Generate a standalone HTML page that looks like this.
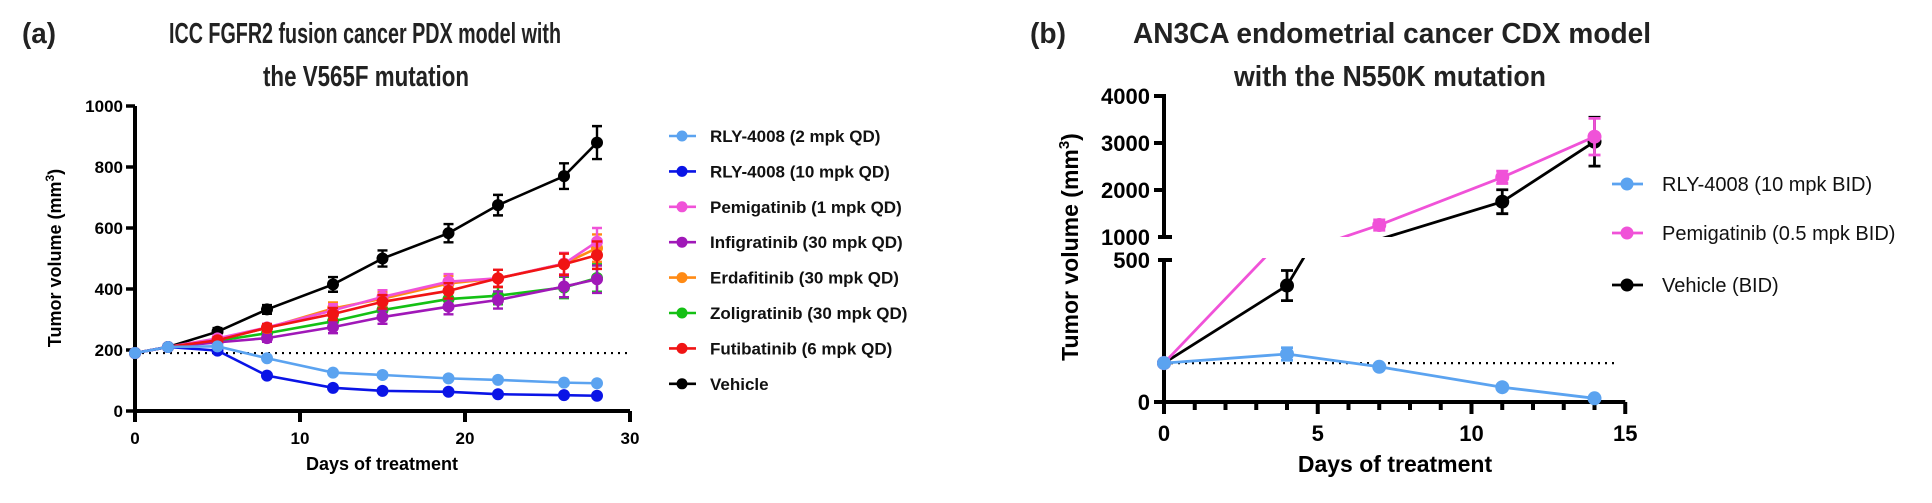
<!DOCTYPE html>
<html><head><meta charset="utf-8"><style>
html,body{margin:0;padding:0;background:#fff;}
svg{display:block;font-family:"Liberation Sans",Arial,sans-serif;}
.b{font-weight:bold;}
</style></head><body>
<svg id="chart" width="1932" height="503" viewBox="0 0 1932 503" xmlns="http://www.w3.org/2000/svg">
<defs>
<clipPath id="clipBot"><rect x="1140" y="258" width="520" height="160"/></clipPath>
<clipPath id="clipTop"><rect x="1140" y="60" width="520" height="177"/></clipPath>
</defs>
<text x="22" y="43" font-size="29" class="b" fill="#222" textLength="34" lengthAdjust="spacingAndGlyphs">(a)</text>
<text x="365" y="43" font-size="29" text-anchor="middle" class="b" fill="#222" textLength="392" lengthAdjust="spacingAndGlyphs">ICC FGFR2 fusion cancer PDX model with</text>
<text x="366" y="86" font-size="29" text-anchor="middle" class="b" fill="#222" textLength="206" lengthAdjust="spacingAndGlyphs">the V565F mutation</text>
<text x="1030" y="43" font-size="29" class="b" fill="#222" textLength="36" lengthAdjust="spacingAndGlyphs">(b)</text>
<text x="1392" y="43" font-size="29" text-anchor="middle" class="b" fill="#222" textLength="518" lengthAdjust="spacingAndGlyphs">AN3CA endometrial cancer CDX model</text>
<text x="1390" y="86" font-size="29" text-anchor="middle" class="b" fill="#222" textLength="312" lengthAdjust="spacingAndGlyphs">with the N550K mutation</text>
<g id="pa"></g>
<g id="pb"></g>
</svg>
<script>
// ---------- Panel A data ----------
const daysA = [0, 2, 5, 8, 12, 15, 19, 22, 26, 28];
const namesA = ["RLY-4008 (2 mpk QD)","RLY-4008 (10 mpk QD)","Pemigatinib (1 mpk QD)","Infigratinib (30 mpk QD)","Erdafitinib (30 mpk QD)","Zoligratinib (30 mpk QD)","Futibatinib (6 mpk QD)","Vehicle"];
const colorsA = ["#5ba3f0","#0a14e6","#f052d8","#a018b8","#ff8a14","#14c014","#f01414","#000000"];
const rly2A   = [190, 210, 212, 173, 126, 118, 107, 102, 93, 91];
const rly10A  = [190, 210, 198, 116, 76, 66, 63, 55, 52, 50];
const pemiA   = [190, 210, 238, 274, 330, 374, 424, 435, 483, 555];
const infigA  = [190, 210, 225, 239, 275, 308, 342, 364, 408, 432];
const erdaA   = [190, 210, 235, 272, 336, 368, 418, 435, 483, 534];
const zoliA   = [190, 210, 230, 255, 294, 331, 367, 378, 405, 436];
const futiA   = [190, 210, 232, 273, 318, 358, 394, 435, 481, 511];
const vehA    = [190, 210, 260, 333, 415, 500, 583, 675, 770, 880];
const errA    = [0, 6, 10, 12, 20, 22, 25, 28, 35, 45];
const yTicksA = [0, 200, 400, 600, 800, 1000];
const xTicksA = [0, 10, 20, 30];
const baselineA = 190;

// ---------- Panel B data ----------
const daysB = [0, 4, 7, 11, 14];
const namesB = ["RLY-4008 (10 mpk BID)","Pemigatinib (0.5 mpk BID)","Vehicle (BID)"];
const colorsB = ["#5ba3f0","#f052d8","#000000"];
const rlyB  = [137, 169, 124, 52, 13];
const pemiB = [137, 590, 1255, 2270, 3134];
const vehB  = [137, 410, 950, 1751, 3028];
const rlyErrB  = [0, 22, 6, 6, 5];
const pemiErrB = [0, 40, 110, 130, 390];
const vehErrB  = [0, 53, 90, 255, 520];
const yTicksBTop = [1000, 2000, 3000, 4000];
const yTicksBBot = [0, 500];
const xTicksB = [0, 5, 10, 15];
const baselineB = 137;

const NS = "http://www.w3.org/2000/svg";
function mk(parent, tag, attrs){ const e=document.createElementNS(NS,tag); for(const k in attrs) e.setAttribute(k,attrs[k]); parent.appendChild(e); return e; }

// ---------- Panel A ----------
const pa = document.getElementById('pa');


const xA = d => 135 + d*16.5;
const yA = v => 411 - v*0.305;
let bl = mk(pa,'line',{x1:xA(0),x2:630,y1:yA(baselineA),y2:yA(baselineA),stroke:'#000','stroke-width':2.2,'stroke-dasharray':'2 5'});


let ax = mk(pa,'path',{d:`M${xA(0)} ${yA(1000)} V${yA(0)} H${xA(30)}`,fill:'none',stroke:'#000','stroke-width':4});


yTicksA.forEach(t=>{
  mk(pa,'line',{x1:xA(0)-9,x2:xA(0),y1:yA(t),y2:yA(t),stroke:'#000','stroke-width':3.5});
  const tx=mk(pa,'text',{x:xA(0)-12,y:yA(t)+6,'font-size':17,'text-anchor':'end',class:'b'});
  tx.textContent=t;
  
  
});
xTicksA.forEach(t=>{
  mk(pa,'line',{x1:xA(t),x2:xA(t),y1:yA(0),y2:yA(0)+11,stroke:'#000','stroke-width':4});
  const tx=mk(pa,'text',{x:xA(t),y:444,'font-size':17,'text-anchor':'middle',class:'b'});
  tx.textContent=t;
  
  
});
let xtA=mk(pa,'text',{x:382,y:470,'font-size':18,'text-anchor':'middle',class:'b'});
xtA.textContent='Days of treatment';


let ytA=mk(pa,'text',{transform:'translate(61,258) rotate(-90)','font-size':18,'text-anchor':'middle',class:'b'});
ytA.innerHTML='Tumor volume (mm<tspan dy="-7" font-size="12">3</tspan><tspan dy="7">)</tspan>';



const seriesA=[rly2A,rly10A,pemiA,infigA,erdaA,zoliA,futiA,vehA];
const order=[7,5,3,4,2,6,1,0];
order.forEach(i=>{
  const vals=seriesA[i], col=colorsA[i];
  const g=mk(pa,'g',{});
  
  
  const d=vals.map((v,j)=>(j?'L':'M')+xA(daysA[j])+' '+yA(v)).join(' ');
  mk(g,'path',{d,fill:'none',stroke:col,'stroke-width':2.6});
  vals.forEach((v,j)=>{
    const e=(i<2)?0:errA[j]*(i===7?1.2:1);
    if(e>4){
      const x=xA(daysA[j]);
      mk(g,'path',{d:`M${x} ${yA(v-e)} V${yA(v+e)} M${x-5} ${yA(v-e)} H${x+5} M${x-5} ${yA(v+e)} H${x+5}`,stroke:col,'stroke-width':2.4,fill:'none'});
    }
    const c=mk(g,'circle',{cx:xA(daysA[j]),cy:yA(v),r:6,fill:col});
    
    
  });
});
namesA.forEach((n,i)=>{
  const y=136+i*35.4;
  const g=mk(pa,'g',{});
  
  
  mk(g,'line',{x1:669,x2:696,y1:y,y2:y,stroke:colorsA[i],'stroke-width':2.6});
  mk(g,'circle',{cx:682,cy:y,r:5.5,fill:colorsA[i]});
  const t=mk(g,'text',{x:710,y:y+6,'font-size':17,class:'b',fill:'#111'});
  t.textContent=n;
});

// ---------- Panel B ----------
const pb=document.getElementById('pb');


const xB = d => 1164 + d*30.75;
const yBot = v => 402 - v*0.284;
const yTop = v => 237 - (v-1000)*0.047;
let blB=mk(pb,'line',{x1:xB(0),x2:1618,y1:yBot(baselineB),y2:yBot(baselineB),stroke:'#000','stroke-width':2.2,'stroke-dasharray':'2 5'});


let axB=mk(pb,'path',{d:`M${xB(0)-8} ${yTop(4000)} H${xB(0)} V${yTop(1000)} M${xB(0)} ${yBot(500)} V${yBot(0)} H${xB(15)}`,fill:'none',stroke:'#000','stroke-width':4});


yTicksBTop.forEach(t=>{
  if(t===1000) mk(pb,'line',{x1:xB(0)-6,x2:xB(0)+8,y1:yTop(t),y2:yTop(t),stroke:'#000','stroke-width':4});
  else mk(pb,'line',{x1:xB(0)-10,x2:xB(0),y1:yTop(t),y2:yTop(t),stroke:'#000','stroke-width':4});
  const tx=mk(pb,'text',{x:xB(0)-14,y:yTop(t)+8,'font-size':22,'text-anchor':'end',class:'b'});
  tx.textContent=t;
  
  
});
yTicksBBot.forEach(t=>{
  if(t===500) mk(pb,'line',{x1:xB(0)-6,x2:xB(0)+8,y1:yBot(t),y2:yBot(t),stroke:'#000','stroke-width':4});
  else mk(pb,'line',{x1:xB(0)-10,x2:xB(0),y1:yBot(t),y2:yBot(t),stroke:'#000','stroke-width':4});
  const tx=mk(pb,'text',{x:xB(0)-14,y:yBot(t)+8,'font-size':22,'text-anchor':'end',class:'b'});
  tx.textContent=t;
  
  
});
for(let d=0;d<=15;d++) mk(pb,'line',{x1:xB(d),x2:xB(d),y1:yBot(0),y2:yBot(0)+(d%5===0?12:8),stroke:'#000','stroke-width':4});
xTicksB.forEach(t=>{
  const tx=mk(pb,'text',{x:xB(t),y:441,'font-size':22,'text-anchor':'middle',class:'b'});
  tx.textContent=t;
  
  
});
let xtB=mk(pb,'text',{x:1395,y:472,'font-size':23,'text-anchor':'middle',class:'b'});
xtB.textContent='Days of treatment';


let ytB=mk(pb,'text',{transform:'translate(1078,247) rotate(-90)','font-size':23,'text-anchor':'middle',class:'b'});
ytB.innerHTML='Tumor volume (mm<tspan dy="-9" font-size="15">3</tspan><tspan dy="9">)</tspan>';



const seriesB=[rlyB,pemiB,vehB], errsB=[rlyErrB,pemiErrB,vehErrB];
[2,1,0].forEach(i=>{
  const vals=seriesB[i], col=colorsB[i], errs=errsB[i];
  const g=mk(pb,'g',{});
  
  
  [[yBot,'clipBot',v=>v<=520],[yTop,'clipTop',v=>v>=980]].forEach(([ys,clip,inSeg])=>{
    const sg=mk(g,'g',{'clip-path':`url(#${clip})`});
    const d=vals.map((v,j)=>(j?'L':'M')+xB(daysB[j])+' '+ys(v)).join(' ');
    mk(sg,'path',{d,fill:'none',stroke:col,'stroke-width':2.8});
    vals.forEach((v,j)=>{
      if(!inSeg(v)) return;
      const e=errs[j], x=xB(daysB[j]);
      if(e>0) mk(sg,'path',{d:`M${x} ${ys(v-e)} V${ys(v+e)} M${x-6} ${ys(v-e)} H${x+6} M${x-6} ${ys(v+e)} H${x+6}`,stroke:col,'stroke-width':2.8,fill:'none'});
      const c=mk(sg,'circle',{cx:x,cy:ys(v),r:7,fill:col});
      
      
    });
  });
});
namesB.forEach((n,i)=>{
  const y=[184,233,285][i];
  const g=mk(pb,'g',{});
  
  
  mk(g,'line',{x1:1612,x2:1643,y1:y,y2:y,stroke:colorsB[i],'stroke-width':2.8});
  mk(g,'circle',{cx:1627,cy:y,r:6.5,fill:colorsB[i]});
  const t=mk(g,'text',{x:1662,y:y+7,'font-size':20,fill:'#111'});
  t.textContent=n;
});
</script>
</body></html>
